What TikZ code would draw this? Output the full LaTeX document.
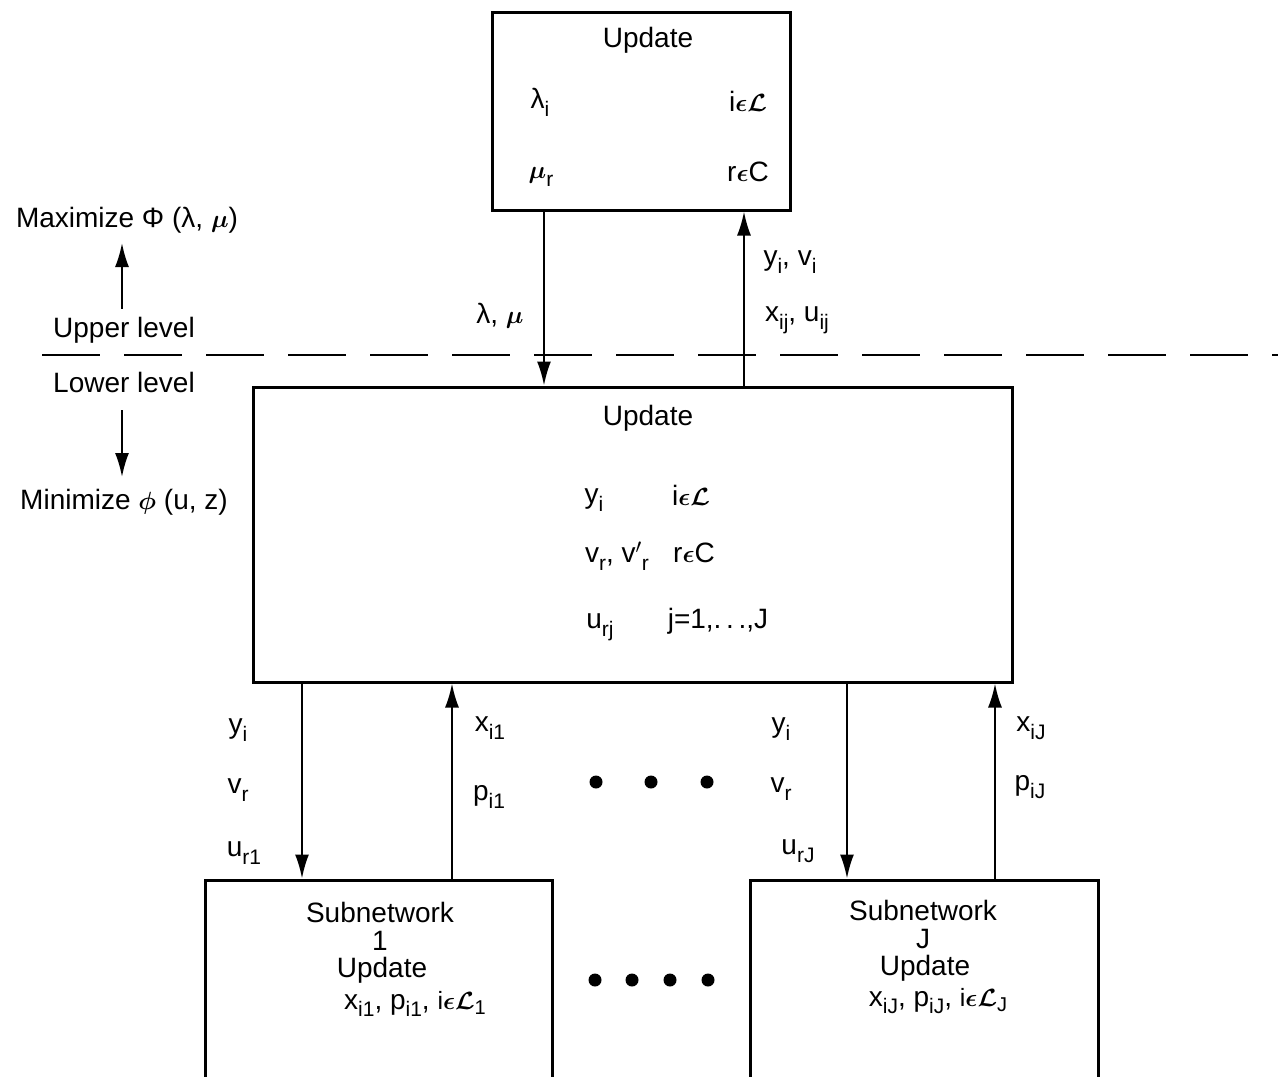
\documentclass[tikz,border=0pt]{standalone}
\usepackage{fontspec}
\usepackage{bm}
\setmainfont{Liberation Sans}
\usetikzlibrary{arrows.meta}
\newcommand{\sbs}[1]{\raisebox{-0.28em}{\fontsize{21}{24}\selectfont #1}}
\newcommand{\ssbs}[1]{\raisebox{-0.2em}{\fontsize{20}{23}\selectfont #1}}
\newcommand{\scL}{$\bm{\mathcal{L}}$}
\newcommand{\inn}{$\bm{\epsilon}$}
\newcommand{\mmu}{$\bm{\mu}$}
\begin{document}
\begin{tikzpicture}[x=1pt,y=-1pt,
  every node/.style={font=\fontsize{28}{33}\selectfont, inner sep=0pt},
  box/.style={draw, line width=3pt, minimum width=#1},
  arr/.style={line width=2pt, -{Latex[length=24pt,width=14pt]}}]
\useasboundingbox (0,0) rectangle (1278,1077);
% boxes
\node[box=298pt, minimum height=198pt] (top) at (641,111) {};
\node[box=759pt, minimum height=295pt] (main) at (632.5,534.5) {};
\node[box=347pt, minimum height=220pt] (sub1) at (378.5,990) {};
\node[box=348pt, minimum height=220pt] (subJ) at (924,990) {};
% top box text
\node (tupd) at (648,40) {Update};
\node (tlam) at (540,102) {λ\sbs{i}};
\node (tiL) at (748,101) {i\inn\scL};
\node (tmu) at (541,177) {\mmu\sbs{r}};
\node (trC) at (748,172) {r\inn C};
% main box text
\node (mupd) at (648,418) {Update};
\node (my) at (594,500) {y\sbs{i}};
\node (miL) at (691,495) {i\inn\scL};
\node (mv) at (617,556) {v\sbs{r}, v$'$\sbs{r}};
\node (mrC) at (694,553) {r\inn C};
\node (mu) at (600,627) {u\sbs{rj}};
\node (mj) at (718,621) {j=1,.\,.\,.,J};
% sub boxes text
\node (s1a) at (380,912) {Subnetwork};
\node (s1b) at (380,941) {1};
\node (s1c) at (382,970) {Update};
\node (s1d) at (415,1004) {x\sbs{i1}, p\sbs{i1}, {\fontsize{25}{29}\selectfont i\inn\scL\ssbs{1}}};
\node (sJa) at (923,910) {Subnetwork};
\node (sJb) at (923,939) {J};
\node (sJc) at (925,968) {Update};
\node (sJd) at (938,1001) {x\sbs{iJ}, p\sbs{iJ}, {\fontsize{25}{29}\selectfont i\inn\scL\ssbs{J}}};
% left labels
\node (max) at (127,220) {Maximize Φ (λ, \mmu)};
\node (upl) at (124,330) {Upper level};
\node (lol) at (124,382) {Lower level};
\node (min) at (124,502) {Minimize $\bm{\phi}$ (u, z)};
\draw[arr] (upl.north -| 122,0) ++(0,-8) -- (122,243);
\draw[arr] (lol.south -| 122,0) ++(0,18) -- (122,477);
% dashed line
\draw[line width=1.6pt, dash pattern=on 58pt off 24pt] (42,355) -- (1278,355);
% top-main arrows
\draw[arr] (544,0 |- top.south) -- (544,0 |- main.north);
\draw[arr] (744,0 |- main.north) -- (744,0 |- top.south);
\node (llm) at (500,316) {λ, \mmu};
\node (lyv) at (790,262) {y\sbs{i}, v\sbs{i}};
\node (lxu) at (797,320) {x\sbs{ij}, u\sbs{ij}};
% main-sub arrows
\draw[arr] (302,0 |- main.south) -- (302,0 |- sub1.north);
\draw[arr] (452,0 |- sub1.north) -- (452,0 |- main.south);
\draw[arr] (847,0 |- main.south) -- (847,0 |- subJ.north);
\draw[arr] (995,0 |- subJ.north) -- (995,0 |- main.south);
\node (l1y) at (238,730) {y\sbs{i}};
\node (l1v) at (238,790) {v\sbs{r}};
\node (l1u) at (244,853) {u\sbs{r1}};
\node (l1x) at (490,728) {x\sbs{i1}};
\node (l1p) at (489,797) {p\sbs{i1}};
\node (lJy) at (781,729) {y\sbs{i}};
\node (lJv) at (781,789) {v\sbs{r}};
\node (lJu) at (798,851) {u\sbs{rJ}};
\node (lJx) at (1031,728) {x\sbs{iJ}};
\node (lJp) at (1030,787) {p\sbs{iJ}};
% dots
\foreach \x [count=\k] in {596,651,707} \fill (\x,782) circle (6.5pt) coordinate (da\k);
\foreach \x [count=\k] in {595,632,670,708} \fill (\x,980) circle (6.5pt) coordinate (db\k);
\end{tikzpicture}
\end{document}
